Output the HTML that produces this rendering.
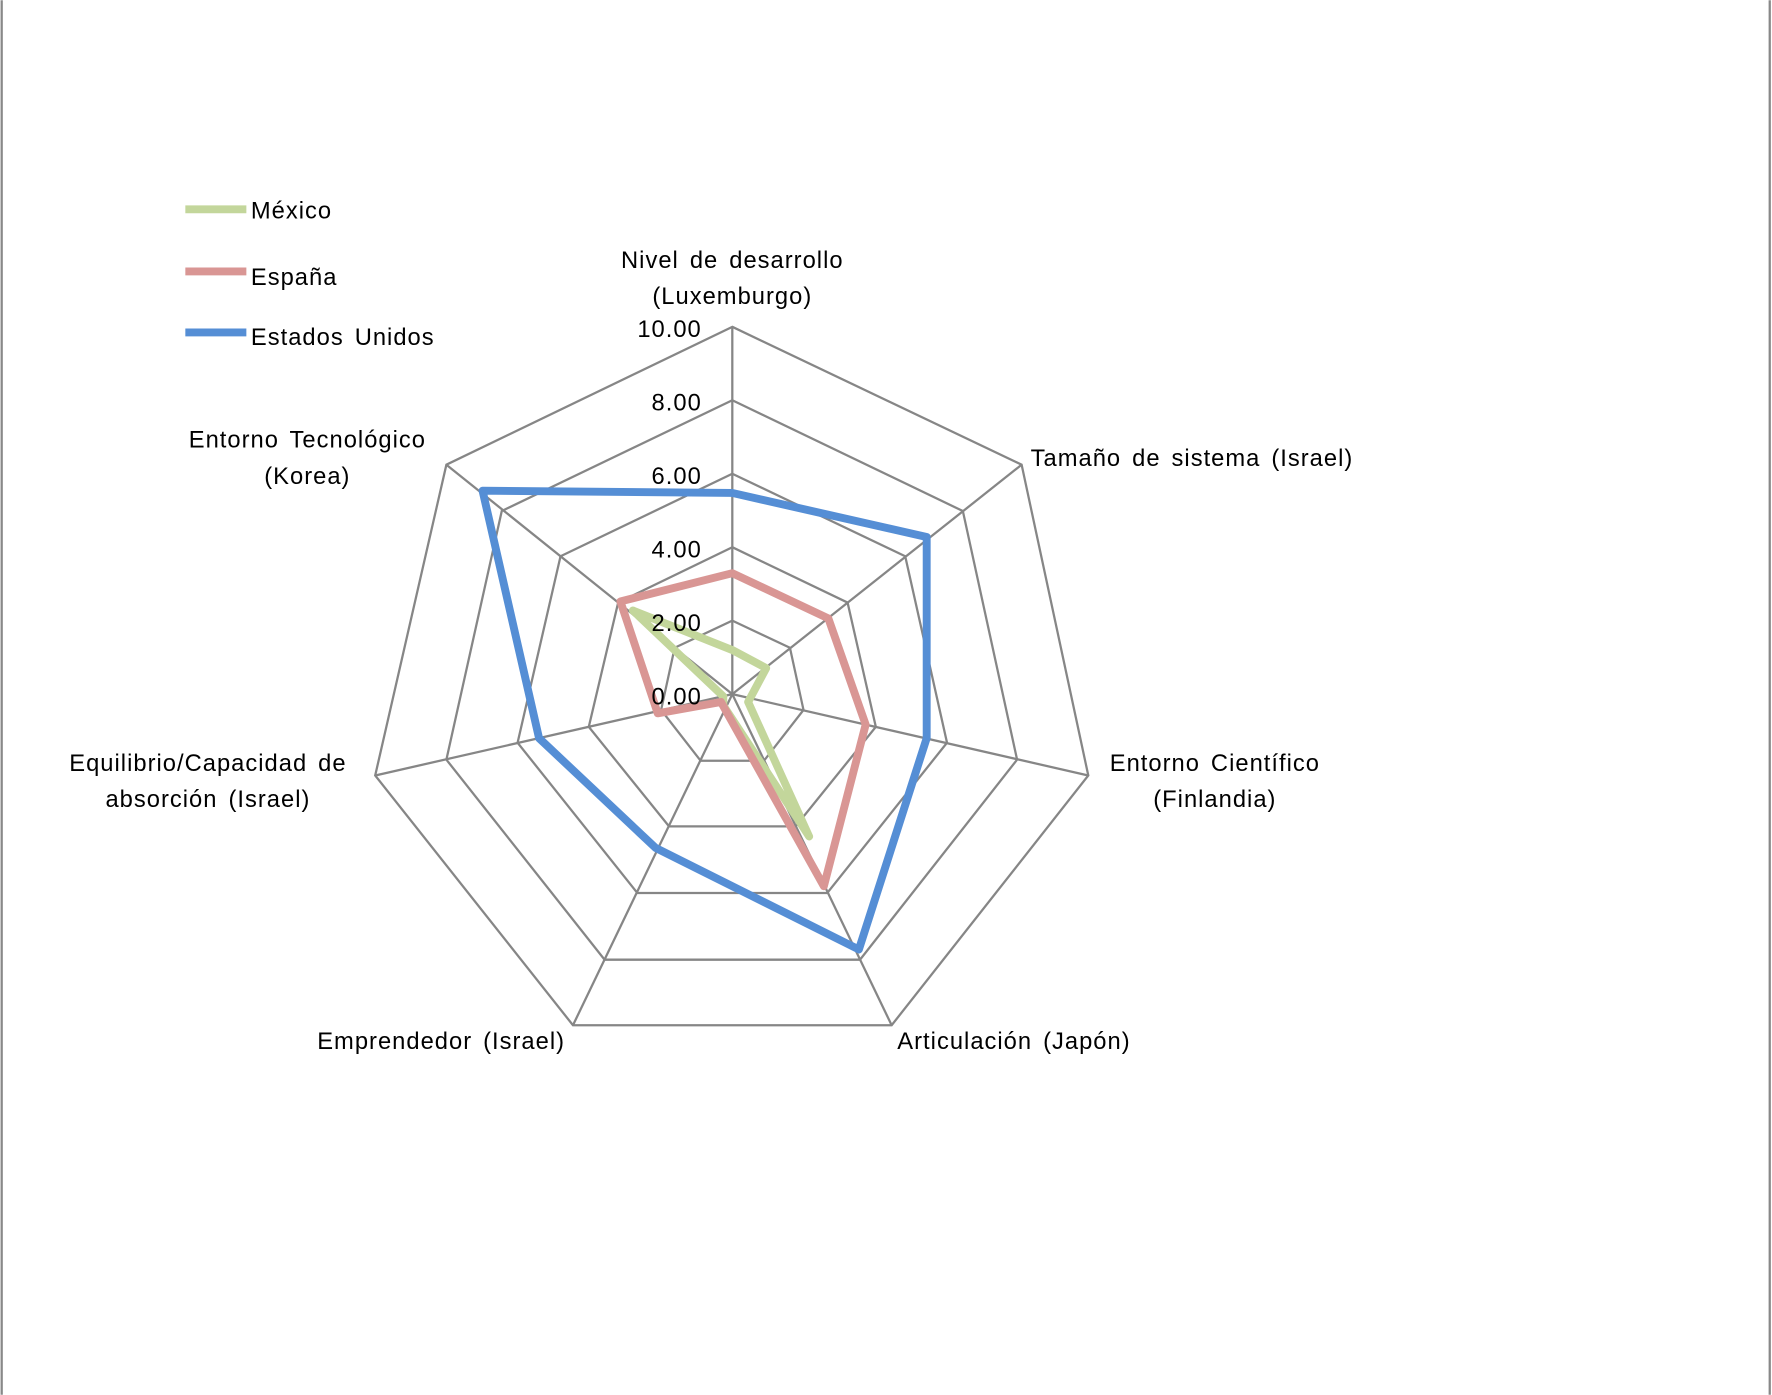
<!DOCTYPE html>
<html><head><meta charset="utf-8"><style>
html,body{margin:0;padding:0;background:#fff;}
svg{display:block;}
text{font-family:"Liberation Sans",sans-serif;font-size:21px;fill:#000;letter-spacing:0.9px;word-spacing:3px;}
</style></head><body>
<svg width="1772" height="1395" viewBox="0 0 1568 1234" xmlns="http://www.w3.org/2000/svg">
<rect width="1568" height="1234" fill="#fff"/>
<line x1="1.5" y1="0" x2="1.5" y2="1234" stroke="#888" stroke-width="2"/>
<line x1="1566" y1="0" x2="1566" y2="1234" stroke="#888" stroke-width="2"/>
<g fill="none" stroke="#868686" stroke-width="2">
<polygon points="648,289 904,411 963,686 789,907 507,907 332,686 395,411"/>
<polygon points="648,354 852,452 900,672 761,849 535,849 395,672 444,452"/>
<polygon points="648,419 801,492 838,657 732,790 564,790 458,657 496,492"/>
<polygon points="648,484 750,533 775,643 704,731 592,731 521,643 547,533"/>
<polygon points="648,549 699,573 711,628 676,673 620,673 585,628 597,573"/>
<line x1="648" y1="614" x2="648" y2="289"/>
<line x1="648" y1="614" x2="904" y2="411"/>
<line x1="648" y1="614" x2="963" y2="686"/>
<line x1="648" y1="614" x2="789" y2="907"/>
<line x1="648" y1="614" x2="507" y2="907"/>
<line x1="648" y1="614" x2="332" y2="686"/>
<line x1="648" y1="614" x2="395" y2="411"/>
</g>
<g fill="none" stroke-width="7" stroke-linejoin="round">
<polygon stroke="#c3d69b" points="648,575 678,591 662,621 716,740 640,624 640,616 560,540"/>
<polygon stroke="#d99694" points="648,507 733,547 766,641 729,784 638,621 582,631 549,532"/>
<polygon stroke="#558ed5" points="648,436 820,475 820,653 760,840 580,750 477,653 427,434"/>
</g>
<g text-anchor="end">
<text x="621" y="298">10.00</text>
<text x="621" y="363">8.00</text>
<text x="621" y="428">6.00</text>
<text x="621" y="493">4.00</text>
<text x="621" y="558">2.00</text>
<text x="621" y="623">0.00</text>
</g>
<g text-anchor="middle">
<text x="648" y="237">Nivel de desarrollo</text>
<text x="648" y="269">(Luxemburgo)</text>
<text x="272" y="396">Entorno  Tecnológico</text>
<text x="272" y="428">(Korea)</text>
<text x="1075" y="682">Entorno  Científico</text>
<text x="1075" y="714">(Finlandia)</text>
<text x="184" y="682">Equilibrio/Capacidad  de</text>
<text x="184" y="714">absorción  (Israel)</text>
</g>
<text x="912" y="412">Tamaño de sistema (Israel)</text>
<text x="794" y="928">Articulación  (Japón)</text>
<text x="500" y="928" text-anchor="end">Emprendedor  (Israel)</text>
<g stroke-width="7">
<line x1="164" y1="185" x2="218" y2="185" stroke="#c3d69b"/>
<line x1="164" y1="240" x2="218" y2="240" stroke="#d99694"/>
<line x1="164" y1="294" x2="218" y2="294" stroke="#558ed5"/>
</g>
<text x="222" y="193">México</text>
<text x="222" y="252">España</text>
<text x="222" y="305">Estados  Unidos</text>
</svg>
</body></html>
